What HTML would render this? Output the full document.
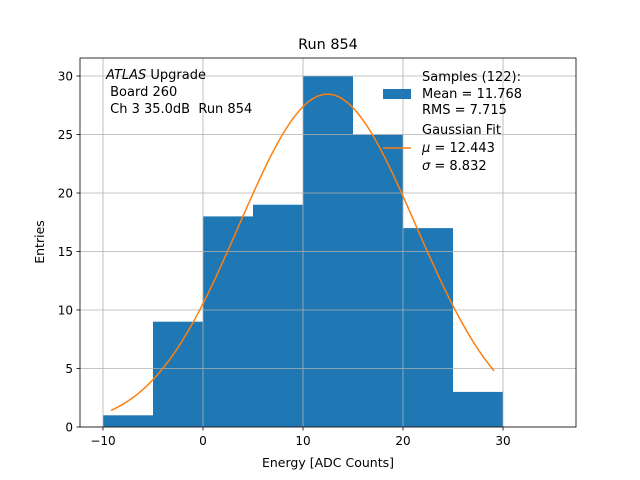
<!DOCTYPE html>
<html><head><meta charset="utf-8"><style>body{margin:0;background:#fff}svg{display:block;font-family:"DejaVu Sans","Liberation Sans",sans-serif}text{white-space:pre}</style></head>
<body>
<svg id="chart" width="640" height="480"></svg>
<script>
const binEdges=[-10,-5,0,5,10,15,20,25,30];
const counts=[1,9,18,19,30,25,17,3];
const fitParams=[28.45,12.443,8.832];
const fitRange=[-9.2,29.1];
const xTicks=[-10,0,10,20,30];
const yTicks=[0,5,10,15,20,25,30];
const L=80,R=576,T=58,B=427,xmin=-12.3,xmax=37.3,ymin=0,ymax=31.54;
const X=v=>L+(v-xmin)/(xmax-xmin)*(R-L);
const Y=v=>B-(v-ymin)/(ymax-ymin)*(B-T);
const svg=document.getElementById('chart');
const NS='http://www.w3.org/2000/svg';
function mk(t,a,p){const e=document.createElementNS(NS,t);for(const k in a)e.setAttribute(k,a[k]);(p||svg).appendChild(e);return e;}
counts.forEach((c,i)=>{const r=mk('rect',{x:X(binEdges[i]),y:Y(c),width:X(binEdges[i+1])-X(binEdges[i]),height:Y(0)-Y(c),fill:'#1f77b4'});

});
xTicks.forEach(v=>{const g=mk('line',{x1:X(v),x2:X(v),y1:T,y2:B,stroke:'#b0b0b0','stroke-width':0.8});


mk('line',{x1:X(v),x2:X(v),y1:B,y2:B+3.5,stroke:'#000','stroke-width':0.8});
const t=mk('text',{x:X(v),y:B+18,'text-anchor':'middle','font-size':12});t.textContent=(v<0?'\u2212'+(-v):v);

});
yTicks.forEach(v=>{const g=mk('line',{x1:L,x2:R,y1:Y(v),y2:Y(v),stroke:'#b0b0b0','stroke-width':0.8});


mk('line',{x1:L-3.5,x2:L,y1:Y(v),y2:Y(v),stroke:'#000','stroke-width':0.8});
const t=mk('text',{x:L-7,y:Y(v)+4.5,'text-anchor':'end','font-size':12});t.textContent=v;

});
let d='';for(let i=0;i<=120;i++){const x=fitRange[0]+(fitRange[1]-fitRange[0])*i/120;const y=fitParams[0]*Math.exp(-0.5*((x-fitParams[1])/fitParams[2])**2);d+=(i?'L':'M')+X(x).toFixed(2)+','+Y(y).toFixed(2);}
const fl=mk('path',{d:d,fill:'none',stroke:'#ff7f0e','stroke-width':1.5});


const fr=mk('rect',{x:L,y:T,width:R-L,height:B-T,fill:'none',stroke:'#000','stroke-width':0.8});


</script>
<svg style="position:absolute;left:0;top:0" width="640" height="480">
<g font-family="DejaVu Sans, Liberation Sans, sans-serif" font-size="13">
<text x="328" y="49" text-anchor="middle" font-size="14.4">Run 854</text>
<text x="328" y="467" text-anchor="middle" font-size="12.5">Energy [ADC Counts]</text>
<text transform="translate(44,242) rotate(-90)" text-anchor="middle" font-size="12.5">Entries</text>
<g font-size="13">
<text x="106" y="79"><tspan font-style="italic">ATLAS</tspan> Upgrade</text>
<text x="106" y="96"> Board 260</text>
<text x="106" y="113"> Ch 3 35.0dB  Run 854</text>
</g>
<g>
<rect x="383" y="89" width="28" height="10" fill="#1f77b4"/>
<text x="422" y="81">Samples (122):</text>
<text x="422" y="98">Mean = 11.768</text>
<text x="422" y="114">RMS = 7.715</text>
<line x1="383" x2="411" y1="148" y2="148" stroke="#ff7f0e" stroke-width="1.5"/>
<text x="422" y="134">Gaussian Fit</text>
<text x="422" y="152"><tspan font-style="italic">μ</tspan> = 12.443</text>
<text x="422" y="170"><tspan font-style="italic">σ</tspan> = 8.832</text>
</g>
</g></svg>
</body></html>
